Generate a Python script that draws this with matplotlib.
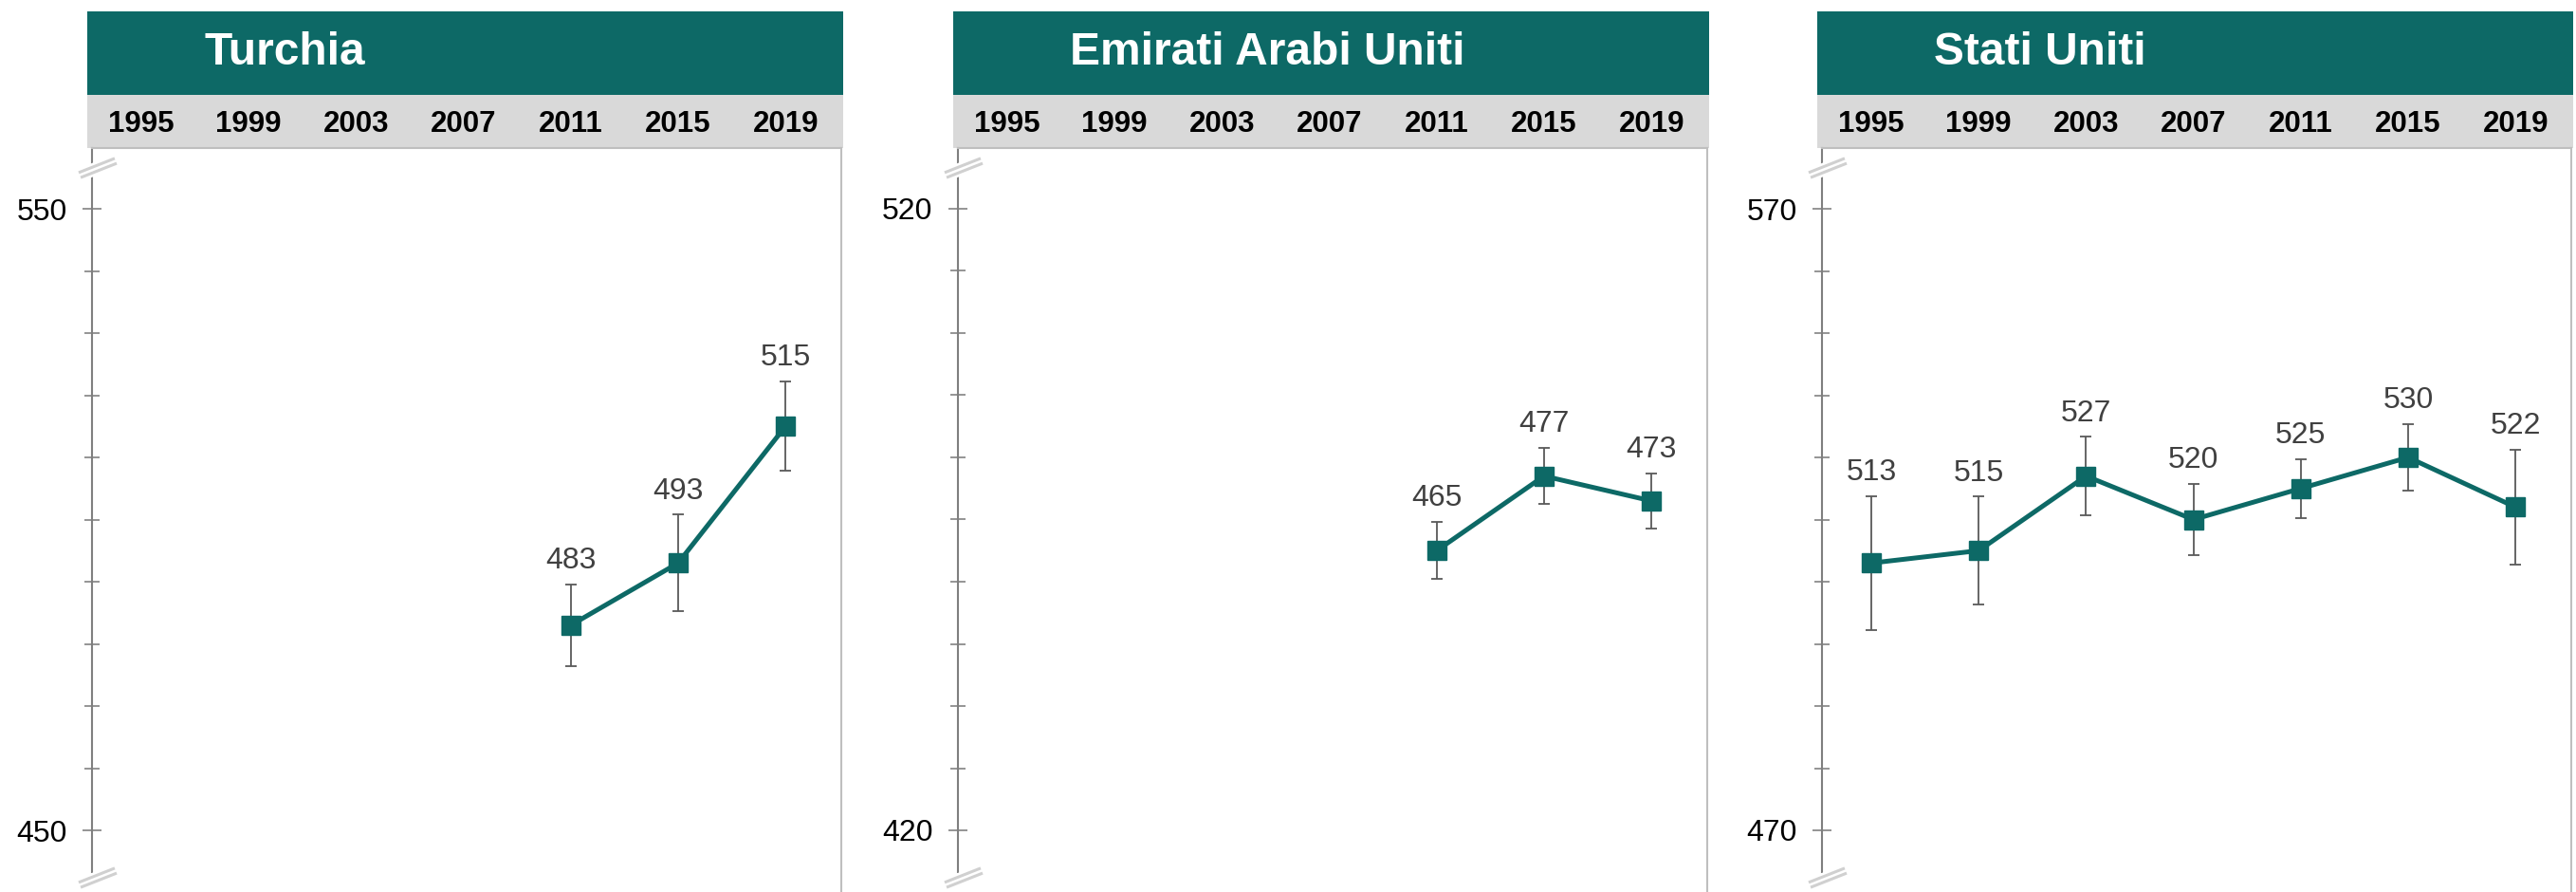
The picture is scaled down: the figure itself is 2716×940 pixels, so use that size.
import numpy as np
import matplotlib.pyplot as plt
from matplotlib.patches import Rectangle
from matplotlib.transforms import blended_transform_factory

plt.rcParams['font.family'] = ['Liberation Sans', 'DejaVu Sans']

years = [1995, 1999, 2003, 2007, 2011, 2015, 2019]

countries = ['Turchia', 'Emirati Arabi Uniti', 'Stati Uniti']

tur_years = [2011, 2015, 2019]
tur_score = [483, 493, 515]
tur_err = [6.6, 7.8, 7.2]

uae_years = [2011, 2015, 2019]
uae_score = [465, 477, 473]
uae_err = [4.6, 4.5, 4.4]

usa_years = [1995, 1999, 2003, 2007, 2011, 2015, 2019]
usa_score = [513, 515, 527, 520, 525, 530, 522]
usa_err = [10.8, 8.7, 6.3, 5.7, 4.7, 5.4, 9.2]

# (low labelled tick, high labelled tick) for each panel
y_ranges = [(450, 550), (420, 520), (470, 570)]

series = [(tur_years, tur_score, tur_err),
          (uae_years, uae_score, uae_err),
          (usa_years, usa_score, usa_err)]

TEAL = '#0d6966'
BAND = '#d9d9d9'
W, H = 2716, 940

fig = plt.figure(figsize=(W / 100, H / 100), dpi=100)

ax_lefts = [97, 1010, 1921]
ax_w = 790
ax_top = 156
ax_h = H - ax_top

for i, (name, (xs, ys, es), (lo, hi)) in enumerate(zip(countries, series, y_ranges)):
    ax = fig.add_axes([ax_lefts[i] / W, 0, ax_w / W, ax_h / H])
    px_per_unit = 655 / (hi - lo)
    ymin = lo - 65 / px_per_unit
    ax.set_ylim(ymin, hi + 64 / px_per_unit)
    ax.set_xlim(1993.16, 2021.08)

    ax.errorbar(xs, ys, yerr=es, fmt='none', ecolor='#595959', elinewidth=1.3,
                capsize=4.5, capthick=1.3, zorder=2)
    ax.plot(xs, ys, color=TEAL, lw=3.6, marker='s', markersize=14, zorder=3)
    for x, y, e in zip(xs, ys, es):
        ax.annotate(str(y), (x, y + e), xytext=(0, 7), textcoords='offset points',
                    ha='center', va='bottom', fontsize=23, color='#404040')

    # y axis: labelled ends, unlabelled ticks every 10
    ax.set_yticks([lo, hi])
    ax.set_yticks(np.arange(lo, hi + 1, 10), minor=True)
    ax.tick_params(axis='y', which='major', direction='inout', length=14,
                   width=1.3, color='#8c8c8c', labelsize=23, pad=12)
    ax.tick_params(axis='y', which='minor', direction='inout', length=12,
                   width=1.3, color='#8c8c8c')

    # years on top, inside the grey band
    ax.set_xticks(years)
    ax.xaxis.tick_top()
    ax.tick_params(axis='x', length=0, labelsize=22.5, pad=7)
    for lab in ax.get_xticklabels():
        lab.set_fontweight('bold')

    ax.spines['bottom'].set_visible(False)
    ax.spines['left'].set_color('#7f7f7f')
    ax.spines['left'].set_linewidth(1.5)
    ax.spines['left'].set_bounds(ymin + 21 / px_per_unit, ax.get_ylim()[1])
    ax.spines['right'].set_color('#bfbfbf')
    ax.spines['right'].set_linewidth(1.5)
    ax.spines['top'].set_color('#bfbfbf')
    ax.spines['top'].set_linewidth(1.5)

    # header band and title
    tr = blended_transform_factory(ax.transAxes, fig.transFigure)
    x0 = -5 / ax_w
    x1 = 1 + 2 / ax_w
    fig.add_artist(Rectangle((x0, 1 - 156 / H), x1 - x0, 56 / H, transform=tr,
                             facecolor=BAND, edgecolor='none', zorder=0))
    fig.add_artist(Rectangle((x0, 1 - 100 / H), x1 - x0, 88 / H, transform=tr,
                             facecolor=TEAL, edgecolor='none', zorder=0))
    fig.text(118 / ax_w, 1 - 56 / H, name, transform=tr, ha='left', va='center',
             fontsize=34.5, fontweight='bold', color='white')

    # axis break marks near both ends of the y axis
    for yb in [1 - 21 / ax_h, 15 / ax_h]:
        cx = 6 / ax_w
        dx, dy = 19 / ax_w, 7.5 / ax_h
        ax.plot([cx - dx, cx + dx], [yb - dy, yb + dy], transform=ax.transAxes,
                color='white', lw=10, solid_capstyle='butt', clip_on=False, zorder=5)
        for off in (-2.8, 2.8):
            ox, oy = off * 0.37 / ax_w, -off * 0.93 / ax_h
            ax.plot([cx - dx + ox, cx + dx + ox], [yb - dy + oy, yb + dy + oy],
                    transform=ax.transAxes, color='#d0d0d0', lw=2.2,
                    solid_capstyle='butt', clip_on=False, zorder=6)

fig.savefig('out.png', dpi=100)
